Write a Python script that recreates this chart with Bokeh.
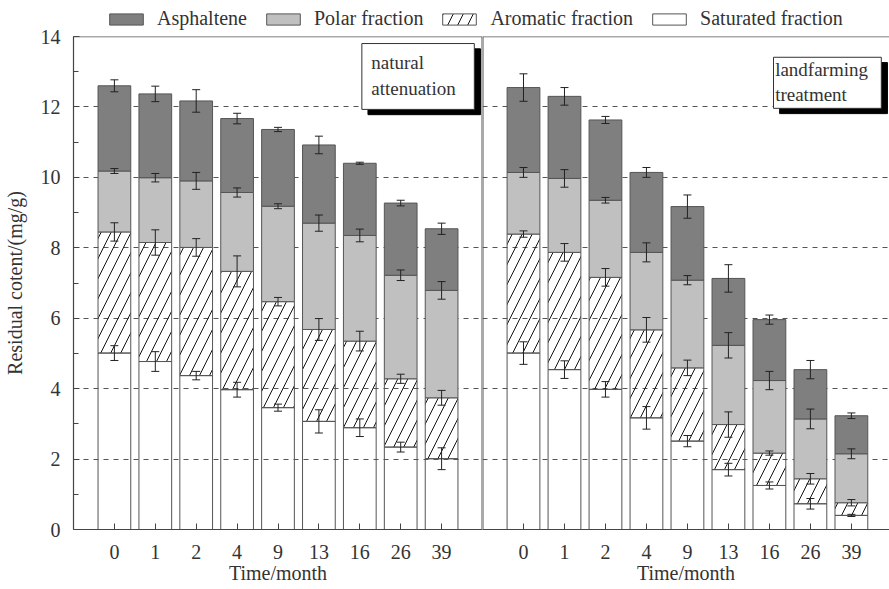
import numpy as np
from bokeh.plotting import figure
from bokeh.layouts import column, row
from bokeh.models import (ColumnDataSource, Whisker, TeeHead, Span, Label, BoxAnnotation,
                          Legend, LegendItem, FixedTicker, SingleIntervalTicker, Range1d)
from bokeh.embed import file_html
from bokeh.resources import INLINE

# ---------------- data ----------------
months = ["0", "1", "2", "4", "9", "13", "16", "26", "39"]

# natural attenuation (mg/g), component amounts
na_saturated = [5.01, 4.77, 4.37, 3.97, 3.46, 3.07, 2.89, 2.34, 2.01]
na_aromatic = [3.44, 3.38, 3.64, 3.36, 3.01, 2.61, 2.46, 1.94, 1.73]
na_polar = [1.73, 1.84, 1.89, 2.24, 2.71, 3.02, 3.00, 2.94, 3.05]
na_asphaltene = [2.42, 2.38, 2.27, 2.10, 2.18, 2.22, 2.05, 2.05, 1.75]
na_saturated_err = [0.21, 0.28, 0.12, 0.21, 0.10, 0.33, 0.25, 0.14, 0.31]
na_aromatic_err = [0.26, 0.36, 0.25, 0.44, 0.12, 0.31, 0.28, 0.13, 0.21]
na_polar_err = [0.07, 0.12, 0.24, 0.13, 0.07, 0.23, 0.18, 0.15, 0.25]
na_asphaltene_err = [0.17, 0.22, 0.32, 0.15, 0.06, 0.25, 0.03, 0.08, 0.16]

# landfarming treatment (mg/g), component amounts
lf_saturated = [5.01, 4.54, 3.98, 3.17, 2.51, 1.70, 1.25, 0.73, 0.40]
lf_aromatic = [3.38, 3.33, 3.18, 2.50, 2.08, 1.28, 0.92, 0.71, 0.36]
lf_polar = [1.75, 2.10, 2.19, 2.20, 2.49, 2.25, 2.06, 1.70, 1.39]
lf_asphaltene = [2.41, 2.33, 2.28, 2.27, 2.09, 1.90, 1.73, 1.40, 1.08]
lf_saturated_err = [0.32, 0.25, 0.22, 0.32, 0.16, 0.18, 0.10, 0.15, 0.03]
lf_aromatic_err = [0.09, 0.25, 0.25, 0.35, 0.22, 0.36, 0.06, 0.15, 0.09]
lf_polar_err = [0.14, 0.25, 0.08, 0.27, 0.13, 0.36, 0.26, 0.28, 0.14]
lf_asphaltene_err = [0.39, 0.25, 0.10, 0.14, 0.33, 0.39, 0.13, 0.26, 0.08]

fraction_names = ["Saturated fraction", "Aromatic fraction", "Polar fraction", "Asphaltene"]
y_ticks = [0, 2, 4, 6, 8, 10, 12, 14]

# ---------------- styling ----------------
FONT = "Liberation Serif"
TXT = "#333333"
n = len(months)
LEG_H = 36          # legend strip height
OVERLAP = 14        # main panels slide up under the strip by this much
TOP_PAD = OVERLAP   # so the frame top lands at y = LEG_H

styles = [
    dict(fill_color=None),
    dict(fill_color=None, hatch_pattern="/", hatch_color="#111111", hatch_scale=20, hatch_weight=1),
    dict(fill_color="#c0c0c0"),
    dict(fill_color="#7f7f7f"),
]

y_range = Range1d(0, 14)


def panel(stack, err, xs, x_range, width, left_border, show_y):
    tops = np.cumsum(np.array(stack), axis=0)
    bottoms = tops - np.array(stack)
    errs = np.array(err)
    p = figure(width=width, height=589 - LEG_H + OVERLAP, x_range=x_range, y_range=y_range,
               output_backend="svg", toolbar_location=None,
               y_axis_location="left" if show_y else None,
               min_border_left=left_border, min_border_right=0, min_border_top=TOP_PAD,
               min_border_bottom=60)
    p.outline_line_color = None
    p.border_fill_color = None
    p.background_fill_color = "white"
    p.xgrid.visible = False
    p.ygrid.ticker = FixedTicker(ticks=y_ticks[1:-1])
    p.ygrid.grid_line_color = "#555555"
    p.ygrid.grid_line_dash = "5 5"
    p.ygrid.grid_line_width = 1
    for i in range(4):
        src = ColumnDataSource(dict(x=xs, bottom=bottoms[i], top=tops[i],
                                    upper=tops[i] + errs[i], lower=tops[i] - errs[i]))
        p.vbar(x="x", bottom="bottom", top="top", width=0.8, source=src,
               line_color="#555555", line_width=1, **styles[i])
        p.add_layout(Whisker(base="x", upper="upper", lower="lower", source=src, level="overlay",
                             line_color="#222222", line_width=1,
                             upper_head=TeeHead(size=8, line_color="#222222", line_width=1),
                             lower_head=TeeHead(size=8, line_color="#222222", line_width=1)))
    p.add_layout(Span(location=14, dimension="width", line_color="#555555", line_width=1.5))
    p.add_layout(Span(location=n, dimension="height", line_color="#555555", line_width=2))

    p.xaxis.ticker = FixedTicker(ticks=[float(v) for v in xs])
    p.xaxis.major_label_overrides = {float(x): m for x, m in zip(xs, months)}
    p.xaxis.minor_tick_line_color = None
    p.xaxis.major_tick_in = 6
    p.xaxis.major_tick_out = 0
    p.xaxis.major_label_standoff = 15
    p.xaxis.axis_label = "Time/month"
    p.xaxis.axis_label_standoff = 0
    axes = [p.xaxis]
    if show_y:
        p.yaxis.ticker = SingleIntervalTicker(interval=2, num_minor_ticks=2)
        p.yaxis.major_tick_in = 6
        p.yaxis.major_tick_out = 0
        p.yaxis.minor_tick_in = 5
        p.yaxis.minor_tick_out = 0
        p.yaxis.minor_tick_line_color = "#444444"
        p.yaxis.major_label_standoff = 13
        p.yaxis.axis_label = "Residual cotent/(mg/g)"
        p.yaxis.axis_label_standoff = 12
        axes.append(p.yaxis)
    for ax in axes:
        ax.axis_line_color = "#444444"
        ax.axis_line_width = 1.2
        ax.major_tick_line_color = "#444444"
        ax.major_label_text_font = FONT
        ax.major_label_text_font_size = "20px"
        ax.major_label_text_color = TXT
        ax.axis_label_text_font = FONT
        ax.axis_label_text_font_size = "20px"
        ax.axis_label_text_font_style = "normal"
        ax.axis_label_text_color = TXT
    return p


def caption(p, left, right, top, bottom, text, tx, ty):
    p.add_layout(BoxAnnotation(left=left + 0.15, right=right + 0.15, top=top - 0.15,
                               bottom=bottom - 0.15, fill_color="black", fill_alpha=1,
                               line_color="black", line_alpha=1))
    p.add_layout(BoxAnnotation(left=left, right=right, top=top, bottom=bottom,
                               fill_color="white", fill_alpha=1, line_color="#333333",
                               line_width=1, line_alpha=1))
    p.add_layout(Label(x=tx, y=ty, text=text, text_font=FONT, text_font_size="19px",
                       text_baseline="top", text_align="left", text_color=TXT))


x_left = np.arange(n)
x_right = np.arange(n) + n + 1

p_left = panel([na_saturated, na_aromatic, na_polar, na_asphaltene],
               [na_saturated_err, na_aromatic_err, na_polar_err, na_asphaltene_err],
               x_left, Range1d(-1.0, n), 482, 71, True)
p_right = panel([lf_saturated, lf_aromatic, lf_polar, lf_asphaltene],
                [lf_saturated_err, lf_aromatic_err, lf_polar_err, lf_asphaltene_err],
                x_right, Range1d(n, 2 * n + 0.93), 407, 0, False)

caption(p_left, 6.05, 8.8, 13.8, 11.93, "natural\nattenuation", 6.28, 13.55)
caption(p_right, 16.1, 18.73, 13.41, 11.96, "landfarming\ntreatment", 16.14, 13.36)

# ---------------- legend strip ----------------
p_leg = figure(width=889, height=LEG_H, x_range=(0, 1), y_range=(0, 1),
               output_backend="svg", toolbar_location=None,
               x_axis_location=None, y_axis_location=None,
               min_border=0)
p_leg.outline_line_color = None
p_leg.grid.visible = False
# legend proxies: one point each, outside the visible range of this strip
proxy_src = ColumnDataSource(dict(x=[-10.0], bottom=[0.0], top=[0.0]))
proxies = []
for i in range(4):
    proxies.append(p_leg.vbar(x="x", bottom="bottom", top="top", width=0.8, source=proxy_src,
                              line_color="#555555", line_width=1, **styles[i]))
order = [3, 2, 1, 0]
legend = Legend(items=[LegendItem(label=fraction_names[i], renderers=[proxies[i]]) for i in order],
                orientation="horizontal", location=(105, 6),
                glyph_width=42, glyph_height=14, label_standoff=10, spacing=15,
                padding=2, margin=0, border_line_color=None, background_fill_alpha=0,
                label_text_font=FONT, label_text_font_size="20px", label_text_color=TXT)
p_leg.add_layout(legend, "center")

main = row(p_left, p_right, margin=(-OVERLAP, 0, 0, 0))
layout = column(p_leg, main)
open("out.html", "w").write(file_html(layout, INLINE))
